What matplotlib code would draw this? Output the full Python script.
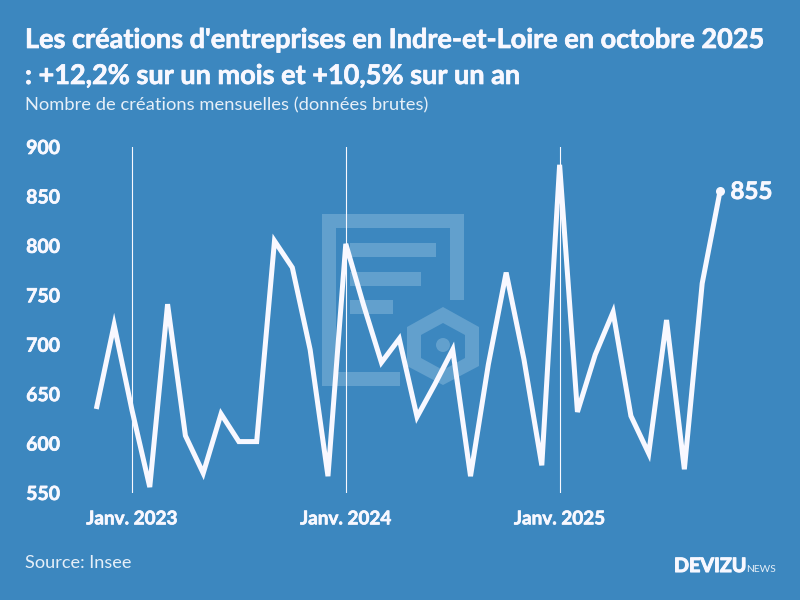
import matplotlib
matplotlib.use("Agg")
import matplotlib.pyplot as plt
import matplotlib.patheffects as pe
from matplotlib.patches import Rectangle, Polygon, Circle

months = ["2022-11","2022-12",
          "2023-01","2023-02","2023-03","2023-04","2023-05","2023-06","2023-07","2023-08","2023-09","2023-10","2023-11","2023-12",
          "2024-01","2024-02","2024-03","2024-04","2024-05","2024-06","2024-07","2024-08","2024-09","2024-10","2024-11","2024-12",
          "2025-01","2025-02","2025-03","2025-04","2025-05","2025-06","2025-07","2025-08","2025-09","2025-10"]
values = [635,720,
          634,556,741,608,570,630,602,602,805,778,695,567,
          802,740,682,706,627,660,695,567,680,773,685,578,
          882,632,690,733,628,590,725,574,762,855]
y_ticks = [550,600,650,700,750,800,850,900]
x_tick_months = ["2023-01","2024-01","2025-01"]
x_tick_labels = ["Janv. 2023","Janv. 2024","Janv. 2025"]
title_text = "Les créations d'entreprises en Indre-et-Loire en octobre 2025\n: +12,2% sur un mois et +10,5% sur un an"
subtitle_text = "Nombre de créations mensuelles (données brutes)"
source_text = "Source: Insee"

BG = "#3c87bf"
FG = "#f8f8ff"
SOFT = "#e6eff8"
WM = "#62a0cd"
plt.rcParams['font.family'] = ['Lato', 'DejaVu Sans']
HEAVY = [pe.withStroke(linewidth=0.5, foreground=FG)]

W, H = 800, 600
fig = plt.figure(figsize=(8, 6), dpi=100, facecolor=BG)

# background watermark, in pixel coordinates
bg = fig.add_axes([0, 0, 1, 1], zorder=0)
bg.set_xlim(0, W); bg.set_ylim(H, 0); bg.axis("off")
for x0, y0, x1, y1 in [(322,214,336,386),(322,214,464,228),(450,214,464,300),
                       (350,243,436,257),(350,272,421,286),(350,300,393,314),(336,372,400,386)]:
    bg.add_patch(Rectangle((x0, y0), x1-x0, y1-y0, fc=WM, ec="none"))
bg.add_patch(Polygon([(443,307),(479,327),(479,366),(443,385),(407,366),(407,327)], fc=WM, ec="none"))
bg.add_patch(Polygon([(443,323),(465,335),(465,358),(443,370),(421,358),(421,335)], fc=BG, ec="none"))
bg.add_patch(Circle((443,345), 7, fc=WM, ec="none"))

# main axes
left, right, top, bottom = 96.3, 720, 147, 493
ax = fig.add_axes([left/W, 1-bottom/H, (right-left)/W, (bottom-top)/H], zorder=1)
ax.patch.set_alpha(0)
xs = list(range(len(months)))
ax.set_xlim(0, len(months)-1)
ax.set_ylim(min(y_ticks), max(y_ticks))
for s in ax.spines.values():
    s.set_visible(False)
ax.set_yticks(y_ticks)
ax.set_yticklabels([str(v) for v in y_ticks], fontsize=14, fontweight="bold", color=FG, ha="left",
                   path_effects=HEAVY)
ax.tick_params(axis="y", length=0, pad=50.5)
ax.set_xticks([months.index(m) for m in x_tick_months])
ax.set_xticklabels(x_tick_labels, fontsize=13.6, fontweight="bold", color=FG, path_effects=HEAVY)
ax.tick_params(axis="x", length=0, pad=12.5)
ax.grid(axis="x", color=FG, lw=0.8)
ax.grid(axis="y", visible=False)
ax.set_axisbelow(True)

ax.plot(xs, values, color=FG, lw=3.6, solid_joinstyle="miter", solid_capstyle="butt",
        clip_on=False, zorder=3)
ax.plot(xs[-1], values[-1], "o", color=FG, ms=6.5, mec="none", clip_on=False, zorder=4)
ax.annotate(str(values[-1]), (xs[-1], values[-1]), xytext=(7.5, 0), textcoords="offset points",
            va="center", ha="left", fontsize=17.4, fontweight="bold", color=FG, path_effects=HEAVY)

# texts
line1, line2 = title_text.split("\n")
fig.text(25/W, 1-40/H, line1, fontsize=19.5, fontweight="bold", color=FG, va="center", ha="left", path_effects=HEAVY)
fig.text(25/W, 1-76/H, line2, fontsize=19.5, fontweight="bold", color=FG, va="center", ha="left", path_effects=HEAVY)
fig.text(25/W, 1-105/H, subtitle_text, fontsize=13.2, color=SOFT, va="center", ha="left")
fig.text(25/W, 1-563/H, source_text, fontsize=13.1, color=SOFT, va="center", ha="left")
fig.text(674/W, 1-566/H, "DEVIZU", fontsize=14.2, fontweight="bold", color=FG, va="center", ha="left",
         path_effects=[pe.withStroke(linewidth=0.8, foreground=FG)])
fig.text(746/W, 1-570/H, "NEWS", fontsize=7.4, color=SOFT, va="center", ha="left")

fig.savefig("out.png", dpi=100, facecolor=BG)
